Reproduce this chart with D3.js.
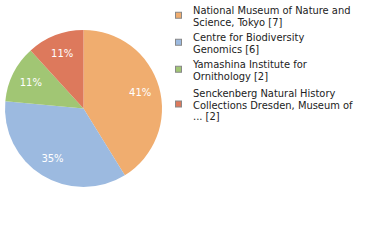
<!DOCTYPE html>
<html><head><meta charset="utf-8">
<script src="https://cdn.jsdelivr.net/npm/d3@7"></script>
<style>html,body{margin:0;padding:0;background:#fff;}svg{display:block;}</style>
</head><body>
<svg id="c" width="380" height="240"></svg>
<script>
const categories = [
  ["National Museum of Nature and", "Science, Tokyo [7]"],
  ["Centre for Biodiversity", "Genomics [6]"],
  ["Yamashina Institute for", "Ornithology [2]"],
  ["Senckenberg Natural History", "Collections Dresden, Museum of", "... [2]"]
];
const values = [7, 6, 2, 2];
const colors = ["#F0AD6F", "#9CBAE0", "#A1C674", "#DD795C"];

const svg = d3.select("#c");
const cx = 83.5, cy = 108.5, R = 78.5;
const total = d3.sum(values);
const pie = d3.pie().sort(null).value(d => d)(values);
const arc = d3.arc().innerRadius(0).outerRadius(R);
const lab = d3.arc().innerRadius(R*0.75).outerRadius(R*0.75);
const g = svg.append("g").attr("transform", `translate(${cx},${cy})`);
g.selectAll("path").data(pie).enter().append("path")
  .attr("d", arc).attr("fill", (d,i) => colors[i]);
g.selectAll("text").data(pie).enter().append("text")
  .attr("transform", d => `translate(${lab.centroid(d)})`)
  .attr("text-anchor", "middle").attr("dy", "0.35em")
  .attr("font-family", "DejaVu Sans").attr("font-size", 10)
  .attr("fill", "#fff")
  .text(d => Math.floor(d.value / total * 100) + "%");

const itemTops = [14, 41, 68, 97];
const lh = 11.5;
const lg = svg.append("g");
categories.forEach((lines, i) => {
  const y0 = itemTops[i];
  const mid = y0 - 4 + (lines.length - 1) * lh / 2;
  lg.append("rect").attr("x", 175.5).attr("y", mid - 3.5).attr("width", 6).attr("height", 6)
    .attr("fill", colors[i]).attr("stroke", "#888").attr("stroke-width", 1);
  const t = lg.append("text").attr("font-family", "DejaVu Sans Condensed, DejaVu Sans").attr("font-size", 11).attr("fill", "#222");
  lines.forEach((s, j) => t.append("tspan").attr("x", 193).attr("y", y0 + j * lh).text(s));
});
</script>
</body></html>
